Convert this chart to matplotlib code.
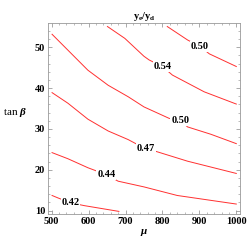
import matplotlib
matplotlib.use("Agg")
from matplotlib import pyplot as plt
from matplotlib.ticker import MultipleLocator

# contour lines of y_e/y_d: (mu, tan beta)
levels = ["0.42", "0.44", "0.47", "0.50", "0.54", "0.50"]
mu_lines = [
    [501, 517, 551, 589, 682],
    [501, 544, 598, 648, 680, 750, 840, 1000],
    [501, 544, 598, 653, 707, 732, 756, 786, 868, 1000],
    [501, 544, 598, 653, 707, 750, 818, 848, 868, 931, 1000],
    [651, 698, 750, 764, 800, 827, 913, 1000],
    [813, 868, 902, 927, 1000],
]
tb_lines = [
    [13.7, 13.1, 11.9, 11.2, 9.8],
    [24.2, 22.7, 20.5, 18.8, 17.2, 15.8, 13.7, 11.6],
    [38.9, 36.3, 32.4, 29.5, 27.4, 26.2, 25.2, 24.4, 22.1, 19.1],
    [53.2, 49.3, 44.4, 40.7, 37.9, 35.4, 32.6, 32.1, 30.5, 28.7, 26.4],
    [55.1, 52.2, 47.8, 46.9, 45.3, 43.2, 39.1, 36.1],
    [55.1, 51.8, 50.2, 48.4, 45.3],
]
label_mu = [551, 648, 756, 848, 800, 902]
label_tb = [11.9, 18.8, 25.2, 32.1, 45.3, 50.2]

plt.rcParams['font.family'] = ['Liberation Serif', 'DejaVu Serif']
plt.rcParams['font.weight'] = 'bold'
plt.rcParams['mathtext.fontset'] = 'custom'
plt.rcParams['mathtext.rm'] = 'Liberation Serif:bold'
plt.rcParams['mathtext.it'] = 'Liberation Serif:italic:bold'
plt.rcParams['mathtext.bf'] = 'Liberation Serif:bold'

fig = plt.figure(figsize=(2.5, 2.5), dpi=100)
ax = fig.add_axes([0.192, 0.143, 0.768, 0.764])

for xs, ys in zip(mu_lines, tb_lines):
    ax.plot(xs, ys, color='#ff3030', lw=0.7)

for lab, x, y in zip(levels, label_mu, label_tb):
    ax.text(x, y, lab, ha='center', va='center', fontsize=7.5, fontweight='bold',
            bbox=dict(facecolor='white', edgecolor='none', pad=0.5), zorder=5)

ax.set_xlim(490, 1010)
ax.set_ylim(9.1, 55.9)
ax.xaxis.set_major_locator(MultipleLocator(100))
ax.xaxis.set_minor_locator(MultipleLocator(20))
ax.yaxis.set_major_locator(MultipleLocator(10))
ax.yaxis.set_minor_locator(MultipleLocator(2))
ax.tick_params(which='both', direction='in', top=True, right=True, labelsize=7.5,
               color='#888888', pad=2)
ax.tick_params(which='major', length=3, width=0.5)
ax.tick_params(which='minor', length=1.5, width=0.4)
for s in ax.spines.values():
    s.set_color('#999999')
    s.set_linewidth(0.6)

ax.set_title(r'$\mathrm{y_e/y_d}$', fontsize=7.5, pad=3)
ax.set_xlabel(r'$\mu$', fontsize=8, labelpad=1)
ax.set_ylabel(r'tan $\beta$', fontsize=8, rotation=0, labelpad=10)
ax.yaxis.set_label_coords(-0.17, 0.5)

fig.savefig('out.png', dpi=100)
